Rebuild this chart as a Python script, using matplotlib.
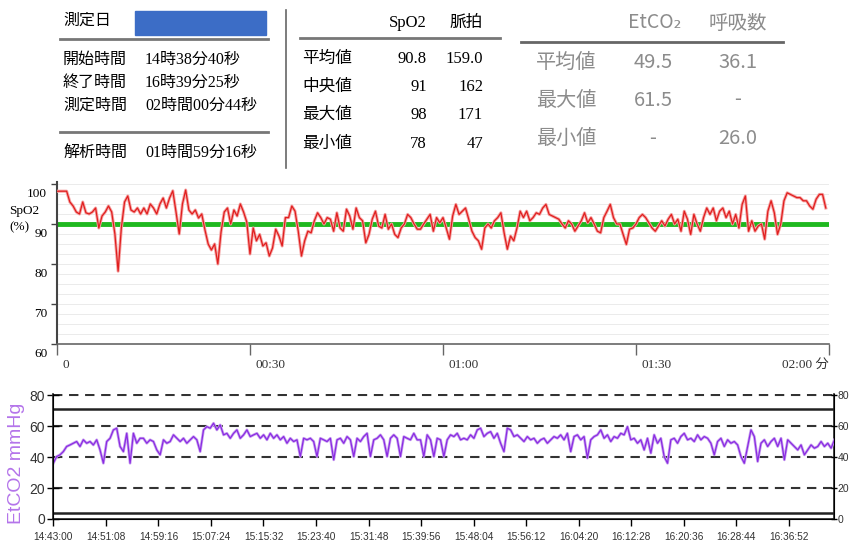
import numpy as np
import matplotlib.pyplot as plt
import matplotlib.transforms as mtransforms
from matplotlib.lines import Line2D
from matplotlib.patches import Rectangle

# ---- header tables ----
info_labels = ['開始時間', '終了時間', '測定時間', '解析時間']
info_values = ['14時38分40秒', '16時39分25秒', '02時間00分44秒', '01時間59分16秒']

stat_labels = ['平均値', '中央値', '最大値', '最小値']
spo2_stats = ['90.8', '91', '98', '78']
pulse_stats = ['159.0', '162', '171', '47']

co2_labels = ['平均値', '最大値', '最小値']
etco2_stats = ['49.5', '61.5', '-']
resp_stats = ['36.1', '-', '26.0']

# ---- SpO2 trend (one value every 0.5 min) ----
spo2_step_min = 0.5
spo2 = [98.2, 98.2, 98.2, 98.2, 95.5, 94.5, 93.0, 92.5, 95.5, 92.8,
        92.5, 93.0, 94.0, 89.0, 92.0, 93.0, 94.5, 93.0, 87.5, 78.2,
        89.0, 95.5, 97.0, 93.5, 93.0, 94.0, 92.5, 94.0, 92.5, 95.0,
        94.0, 92.5, 95.0, 96.5, 94.0, 96.5, 98.3, 93.0, 87.5, 95.0,
        98.5, 93.5, 92.5, 93.5, 91.5, 92.5, 88.5, 85.0, 83.5, 85.0,
        80.0, 88.0, 93.0, 94.0, 90.0, 93.5, 92.0, 95.0, 93.0, 90.5,
        82.5, 89.0,
        85.8, 87.4, 84.5, 85.3, 82.0, 84.0, 88.7, 87.0, 84.5, 91.6,
        91.6, 94.5, 93.2, 88.2, 82.0, 85.8, 88.2, 87.8, 90.8, 92.8,
        91.6, 90.0, 91.6, 91.2, 88.2, 92.8, 89.0, 88.2, 93.7, 92.0,
        88.7, 94.0, 91.6, 90.8, 85.3, 87.4, 91.2, 93.2, 89.5, 89.0,
        92.4, 88.7, 90.0, 87.4, 86.6, 89.0, 90.0, 92.4, 91.6, 90.0,
        88.7, 88.7, 90.0, 91.2, 92.4, 88.2, 91.6, 90.3, 91.6, 89.0,
        86.2, 92.0, 94.9, 92.4, 93.2, 94.0, 91.2, 88.2, 86.6, 85.8,
        83.7, 89.0, 90.0, 89.0, 90.8, 91.6, 92.8, 87.8, 83.7, 87.0,
        85.8, 89.0, 93.2, 91.6, 93.2, 90.8, 91.6, 92.8, 92.4, 94.0,
        94.9, 92.4, 92.0, 91.6, 91.2, 90.0, 89.0, 90.8, 90.0, 88.2,
        89.5, 90.8, 92.8, 90.3, 91.6, 90.0, 88.2, 87.8, 91.6, 93.2,
        94.9, 91.6, 90.0, 90.0, 87.4, 84.9, 88.7, 89.0, 90.0, 91.6,
        92.4,
        91.6, 90.3, 89.0, 88.2, 89.5, 90.8, 89.5, 91.2, 92.4, 90.0,
        91.2, 88.2, 93.2, 91.2, 87.4, 92.4, 90.0, 88.2, 91.6, 94.0,
        92.4, 94.0, 90.8, 93.2, 94.0, 91.6, 93.2, 90.0, 92.4, 89.0,
        94.9, 97.0, 88.2, 90.8, 88.2, 89.5, 90.0, 86.2, 93.2, 95.8,
        92.8, 87.4, 90.0, 95.8, 97.8, 97.4, 97.0, 96.6, 96.6, 95.8,
        95.8, 94.5, 93.7, 96.2, 97.4, 97.4, 94.0]
spo2_ref = 90
spo2_ticks = [0, 30, 60, 90, 120]
spo2_tick_labels = ['0', '00:30', '01:00', '01:30', '02:00 分']

# ---- EtCO2 trend (one value every 31 s) ----
etco2_step_s = 31
etco2 = [36.0, 40.3, 41.4, 43.5, 46.8, 47.8, 48.9, 50.0, 46.8, 51.1,
         48.9, 50.0, 47.8, 51.1, 44.6, 36.0, 50.0, 52.1, 57.5, 58.6,
         46.8, 43.5, 55.3, 36.0, 55.3, 48.9, 52.1, 52.1, 48.9, 51.1,
         50.0, 44.6, 41.4, 51.1, 48.9, 50.0, 54.3, 52.1, 50.0, 52.1,
         48.9, 51.1, 53.2, 51.1, 43.5, 57.5, 59.6, 58.6, 61.8, 57.5,
         60.7, 54.3, 55.3, 52.1, 55.3, 57.5, 52.1, 54.3, 57.5, 53.2,
         54.3, 55.3, 52.1, 54.3, 51.1, 55.3, 52.1, 54.3, 51.1, 53.2,
         48.9, 52.1, 50.0, 51.1, 40.3, 52.1, 51.1, 52.1, 50.0, 40.3,
         52.1, 51.1, 50.0, 52.1, 38.2, 51.1, 52.1, 48.9, 53.2, 51.1,
         40.3, 52.1, 50.0, 53.2, 55.3, 40.3, 51.1, 52.1, 54.3, 51.1,
         40.3, 52.1, 54.3, 52.1, 40.3, 53.2, 52.1, 51.1, 55.3, 51.1,
         51.1, 40.3, 54.3, 51.1, 40.3, 52.1, 51.1, 40.3, 51.1, 54.3,
         53.2, 55.3, 51.1, 52.1, 51.1, 54.3, 52.1, 57.5, 58.6, 53.2,
         55.3, 56.4, 52.1, 55.3, 48.9, 43.5, 58.6, 57.5, 53.2, 54.3,
         52.1, 50.0, 53.2, 51.1, 52.1, 48.9, 51.1, 52.1, 48.9, 51.1,
         53.2, 52.1, 54.3, 51.1, 55.3, 43.5, 53.2, 54.3, 51.1, 53.2,
         39.3, 51.1, 53.2, 54.3, 57.5, 52.1, 54.3, 50.0, 53.2, 52.1,
         55.3, 54.3, 59.6, 51.1, 52.1, 48.9, 51.1, 44.6, 52.1, 42.5,
         54.3, 48.9, 52.1, 40.3, 36.0, 51.1, 52.1, 48.9, 53.2, 55.3,
         51.1, 52.1, 50.0, 54.3, 51.1, 53.2, 52.1, 48.9, 41.4, 50.0,
         52.1, 46.8, 51.1, 48.9, 50.0, 47.8, 40.3, 36.0, 46.8, 57.5,
         53.2, 37.1, 48.9, 51.1, 46.8, 50.0, 52.1, 46.8, 52.1, 38.2,
         51.1, 48.9, 46.8, 44.6, 47.8, 41.4, 44.6, 47.8, 45.7, 46.8,
         50.0, 46.8, 48.9, 45.7, 51.1]
etco2_tick_s = 488
etco2_tick_labels = ['14:43:00', '14:51:08', '14:59:16', '15:07:24', '15:15:32',
                     '15:23:40', '15:31:48', '15:39:56', '15:48:04', '15:56:12',
                     '16:04:20', '16:12:28', '16:20:36', '16:28:44', '16:36:52']
etco2_levels = [20, 40, 60, 80]

W, H = 850, 549
def fx(x):
    return x / W
def fy(y):
    return 1 - y / H

serif_jp = ['Liberation Serif', 'Noto Sans CJK JP']
sans_jp = ['Noto Sans CJK JP', 'DejaVu Sans']
num_font = 'Liberation Sans'

fig = plt.figure(figsize=(8.5, 5.49), dpi=100)

def hline(x0, x1, y, color='#777777', lw=2):
    fig.add_artist(Line2D([fx(x0), fx(x1)], [fy(y), fy(y)], color=color, lw=lw,
                          transform=fig.transFigure))

# left block
fig.text(fx(63), fy(21), '測定日', family=serif_jp, fontsize=11.5, va='center')
fig.add_artist(Rectangle((fx(135), fy(35)), fx(266) - fx(135), fy(11) - fy(35),
                         transform=fig.transFigure, color='#3c6dc6'))
hline(60, 268, 39)
rows_y = [60, 83, 106, 153]
for lab, val, y in zip(info_labels, info_values, rows_y):
    fig.text(fx(63), fy(y), lab, family=serif_jp, fontsize=11.5, va='center')
    fig.text(fx(145), fy(y), val, family=serif_jp, fontsize=11.5, va='center')
hline(60, 268, 132)
fig.add_artist(Line2D([fx(286), fx(286)], [fy(10), fy(168)], color='#666666', lw=1.2,
                      transform=fig.transFigure))

# middle block
fig.text(fx(427), fy(23), 'SpO2', family=serif_jp, fontsize=12, va='center', ha='right')
fig.text(fx(483), fy(23), '脈拍', family=serif_jp, fontsize=12, va='center', ha='right')
hline(300, 500, 38)
for lab, a, b, y in zip(stat_labels, spo2_stats, pulse_stats, [59, 87, 115, 144]):
    fig.text(fx(302), fy(y), lab, family=serif_jp, fontsize=12, va='center')
    fig.text(fx(427), fy(y), a, family=serif_jp, fontsize=12, va='center', ha='right')
    fig.text(fx(483), fy(y), b, family=serif_jp, fontsize=12, va='center', ha='right')

# right block (grey)
grey = '#8c8c8c'
fig.text(fx(655), fy(23), 'EtCO₂', family=sans_jp, fontsize=14, color=grey, va='center', ha='center')
fig.text(fx(738), fy(23), '呼吸数', family=sans_jp, fontsize=14, color=grey, va='center', ha='center')
hline(521, 783, 42, color='#666666')
for lab, a, b, y in zip(co2_labels, etco2_stats, resp_stats, [62, 100, 138]):
    fig.text(fx(536), fy(y), lab, family=sans_jp, fontsize=14.5, color=grey, va='center')
    fig.text(fx(653), fy(y), a, family=sans_jp, fontsize=14.5, color=grey, va='center', ha='center')
    fig.text(fx(738), fy(y), b, family=sans_jp, fontsize=14.5, color=grey, va='center', ha='center')

# ---- SpO2 panel ----
ax1 = fig.add_axes([fx(57), fy(344), fx(829) - fx(57), fy(182) - fy(344)])
t1 = np.arange(len(spo2)) * spo2_step_min
for v in np.arange(62.5, 100.1, 2.5):
    ax1.axhline(v, color='#ebebeb', lw=0.7, zorder=0)
ax1.axhline(spo2_ref, color='#1fb81f', lw=3.5, zorder=2)
ax1.plot(t1, spo2, color='#f5a3a3', lw=2.2, zorder=3)
ax1.plot(t1, spo2, color='#e01e1e', lw=0.9, zorder=4)
ax1.set_xlim(0, 120)
ax1.set_ylim(60, 100.5)
for s in ['top', 'right']:
    ax1.spines[s].set_visible(False)
ax1.spines['left'].set_color('#444444')
ax1.spines['left'].set_linewidth(1.5)
ax1.spines['bottom'].set_color('#666666')
ax1.spines['bottom'].set_linewidth(1.2)
ax1.set_yticks([60, 70, 80, 90, 100])
ax1.set_yticklabels(['60', '70', '80', '90', '100'], family='Liberation Serif', fontsize=9.5)
ax1.tick_params(axis='y', length=4, width=1, color='#444444', pad=3)
down = mtransforms.ScaledTranslation(0, -0.085, fig.dpi_scale_trans)
for lab in ax1.get_yticklabels():
    lab.set_transform(lab.get_transform() + down)
ax1.set_xticks(spo2_ticks)
ax1.set_xticklabels([])
ax1.tick_params(axis='x', length=8, width=1, color='#666666')
xtrans = mtransforms.blended_transform_factory(ax1.transData, ax1.transAxes)
for i, (tk, lab) in enumerate(zip(spo2_ticks, spo2_tick_labels)):
    last = i == len(spo2_ticks) - 1
    ax1.text(tk + (0 if last else 0.9), -0.13, lab, transform=xtrans,
             ha='right' if last else 'left', va='center',
             family=serif_jp, fontsize=9.5, color='#333333')
fig.text(fx(9), fy(211), 'SpO2', family='Liberation Serif', fontsize=9.5, va='center')
fig.text(fx(9), fy(227), '(%)', family='Liberation Serif', fontsize=9.5, va='center')

# ---- EtCO2 panel ----
ax2 = fig.add_axes([fx(53.3), fy(519), fx(834) - fx(53.3), fy(393.5) - fy(519)])
t2 = np.arange(len(etco2)) * etco2_step_s
for lv in etco2_levels:
    ax2.axhline(lv, color='#333333', lw=1.5, dashes=(4.5, 3.2), zorder=1)
ax2.axhline(71, color='#222222', lw=1.8, zorder=1)
ax2.axhline(4, color='#222222', lw=1.8, zorder=1)
ax2.plot(t2, etco2, color='#c9a2f0', lw=2.0, zorder=3)
ax2.plot(t2, etco2, color='#8a2be2', lw=0.9, zorder=4)
ax2.set_xlim(0, 7250)
ax2.set_ylim(0, 81)
ax2.spines['top'].set_visible(False)
for s in ['left', 'right', 'bottom']:
    ax2.spines[s].set_color('#222222')
    ax2.spines[s].set_linewidth(1.2)
xt = np.arange(len(etco2_tick_labels)) * etco2_tick_s
ax2.set_xticks(xt)
ax2.set_xticklabels(etco2_tick_labels, family=num_font, fontsize=7.3, color='#333333')
ax2.tick_params(axis='x', length=5, width=1, pad=4)
ax2.set_yticks([0, 20, 40, 60, 80])
ax2.set_yticklabels(['0', '20', '40', '60', '80'], family=num_font, fontsize=10, color='#333333')
ax2.tick_params(axis='y', direction='inout', length=8, width=1, pad=2)
ax2r = ax2.twinx()
ax2r.set_ylim(0, 81)
ax2r.spines['top'].set_visible(False)
ax2r.set_yticks([0, 20, 40, 60, 80])
ax2r.set_yticklabels(['0', '20', '40', '60', '80'], family=num_font, fontsize=7.5, color='#333333')
ax2r.tick_params(axis='y', direction='inout', length=5, width=1, pad=0)
fig.text(fx(17), fy(463), 'EtCO2 mmHg', family='Liberation Sans', fontsize=14,
         color='#b474ea', rotation=90, ha='center', va='center')

fig.savefig('out.png', dpi=100)
